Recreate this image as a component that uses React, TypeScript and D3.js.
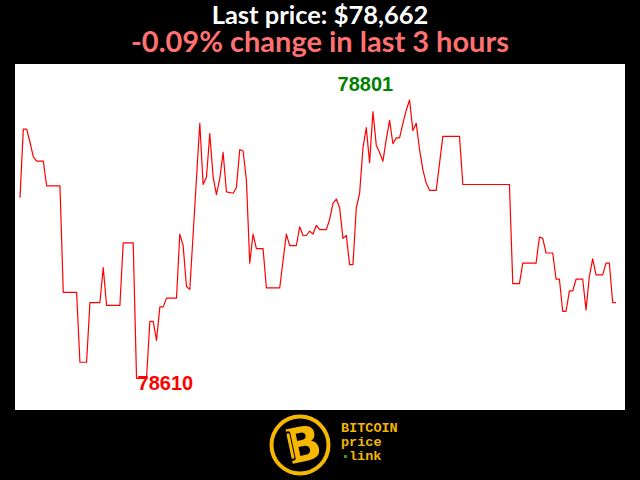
import React from "react";
import * as d3 from "d3";

// minutes since start of the 3-hour window, and BTC price at that minute
const minutes = [
  0, 1, 2, 3, 4, 5, 7, 8, 12, 13, 17, 18, 20, 21, 24, 25, 26, 30, 31, 34,
  35, 38, 39, 40, 41, 42, 43, 44, 47, 48, 49, 50, 51, 54, 55, 56, 57, 58, 59, 60,
  61, 62, 64, 65, 66, 67, 68, 69, 70, 71, 73, 74, 78, 80, 81, 83, 84, 85, 86, 87,
  88, 89, 90, 92, 93, 94, 95, 96, 97, 98, 99, 100, 101, 102, 103, 104, 105, 106, 107, 108,
  109, 110, 111, 112, 113, 114, 115, 116, 117, 118, 119, 120, 121, 122, 123, 125, 127, 132, 133, 147,
  148, 150, 151, 155, 156, 157, 158, 160, 161, 162, 163, 164, 165, 166, 167, 169, 170, 171, 172, 173,
  175, 176, 177, 178, 179,
];
const prices = [
  78734, 78781, 78781, 78772, 78762, 78759, 78759, 78742, 78742, 78669, 78669, 78621, 78621, 78662, 78662, 78686, 78660, 78660, 78703, 78703,
  78610, 78610, 78649, 78649, 78636, 78659, 78659, 78665, 78665, 78709, 78701, 78673, 78671, 78785, 78743, 78748, 78778, 78748, 78736, 78747,
  78765, 78738, 78737, 78741, 78767, 78766, 78746, 78689, 78709, 78699, 78699, 78672, 78672, 78709, 78701, 78701, 78714, 78708, 78708, 78711,
  78709, 78715, 78712, 78712, 78719, 78730, 78733, 78727, 78706, 78708, 78688, 78688, 78727, 78737, 78768, 78782, 78758, 78793, 78770, 78765,
  78759, 78774, 78787, 78771, 78775, 78775, 78785, 78794, 78801, 78780, 78785, 78767, 78753, 78744, 78739, 78739, 78776, 78776, 78743, 78743,
  78675, 78675, 78689, 78689, 78707, 78706, 78696, 78696, 78678, 78678, 78656, 78656, 78670, 78670, 78678, 78678, 78657, 78680, 78692, 78681,
  78681, 78689, 78689, 78662, 78662,
];

const titleLine = "Last price: $78,662";
const changeLine = "-0.09% change in last 3 hours";
const logoLines = ["BITCOIN", "price", "link"];

export default function App() {
  const W = 640;
  const H = 480;
  const plot = { x: 15, y: 64, w: 610, h: 346 };

  const x = d3.scaleLinear().domain([0, 179]).range([20, 616]);
  const yMin = d3.min(prices) as number;
  const yMax = d3.max(prices) as number;
  const y = d3.scaleLinear().domain([yMin, yMax]).range([378.3, 100]);

  const pts = minutes.map((m, i) => [m, prices[i]] as [number, number]);
  const line = d3
    .line<[number, number]>()
    .x((d) => x(d[0]))
    .y((d) => y(d[1]));

  const minIdx = prices.indexOf(yMin);
  const maxIdx = prices.indexOf(yMax);

  const yellow = "#f5b700";
  const mono = "'Liberation Mono', 'DejaVu Sans Mono', monospace";

  return (
    <svg
      width={W}
      height={H}
      style={{ position: "fixed", left: 0, top: 0, display: "block" }}
    >
      <rect x={0} y={0} width={W} height={H} fill="#000" />
      <text
        x={320}
        y={24}
        textAnchor="middle"
        fill="#fff"
        fontFamily="Lato, 'Open Sans', sans-serif"
        fontWeight="bold"
        fontSize={25.5}
      >
        {titleLine}
      </text>
      <text
        x={320}
        y={52}
        textAnchor="middle"
        fill="#ff7070"
        fontFamily="Lato, 'Open Sans', sans-serif"
        fontWeight="bold"
        fontSize={29}
      >
        {changeLine}
      </text>
      <rect x={plot.x} y={plot.y} width={plot.w} height={plot.h} fill="#fff" />
      <path d={line(pts) || ""} fill="none" stroke="#ff0000" strokeWidth={1.2} strokeLinejoin="round" />
      <text
        x={x(minutes[minIdx]) + 1}
        y={y(yMin) + 12}
        fill="#ff0000"
        fontFamily="'Liberation Sans', Arial, sans-serif"
        fontWeight="bold"
        fontSize={20}
      >
        {String(yMin)}
      </text>
      <text
        x={x(minutes[maxIdx]) - 72}
        y={y(yMax) - 9}
        fill="#008000"
        fontFamily="'Liberation Sans', Arial, sans-serif"
        fontWeight="bold"
        fontSize={20}
      >
        {String(yMax)}
      </text>
      {/* logo */}
      <g>
        <circle cx={300} cy={445} r={28.5} fill="none" stroke={yellow} strokeWidth={4} />
        <text
          x={303}
          y={462}
          textAnchor="middle"
          fill={yellow}
          fontFamily="'DejaVu Sans', sans-serif"
          fontWeight="bold"
          fontSize={48}
          transform="rotate(-12 300 445)"
        >
          B
        </text>
        <rect x={288} y={429} width={5} height={30} rx={2} fill="#000" transform="rotate(-12 300 445)" />
        <rect x={289} y={431} width={3} height={26} rx={1.5} fill={yellow} transform="rotate(-12 300 445)" />
        <text x={341} y={432} fill={yellow} fontFamily={mono} fontWeight="bold" fontSize={13.5}>
          {logoLines[0]}
        </text>
        <text x={341} y={446} fill={yellow} fontFamily={mono} fontWeight="bold" fontSize={13.5}>
          {logoLines[1]}
        </text>
        <rect x={344} y={455} width={3} height={3} fill="#2a9d2a" />
        <text x={349} y={460} fill={yellow} fontFamily={mono} fontWeight="bold" fontSize={13.5}>
          {logoLines[2]}
        </text>
      </g>
    </svg>
  );
}
